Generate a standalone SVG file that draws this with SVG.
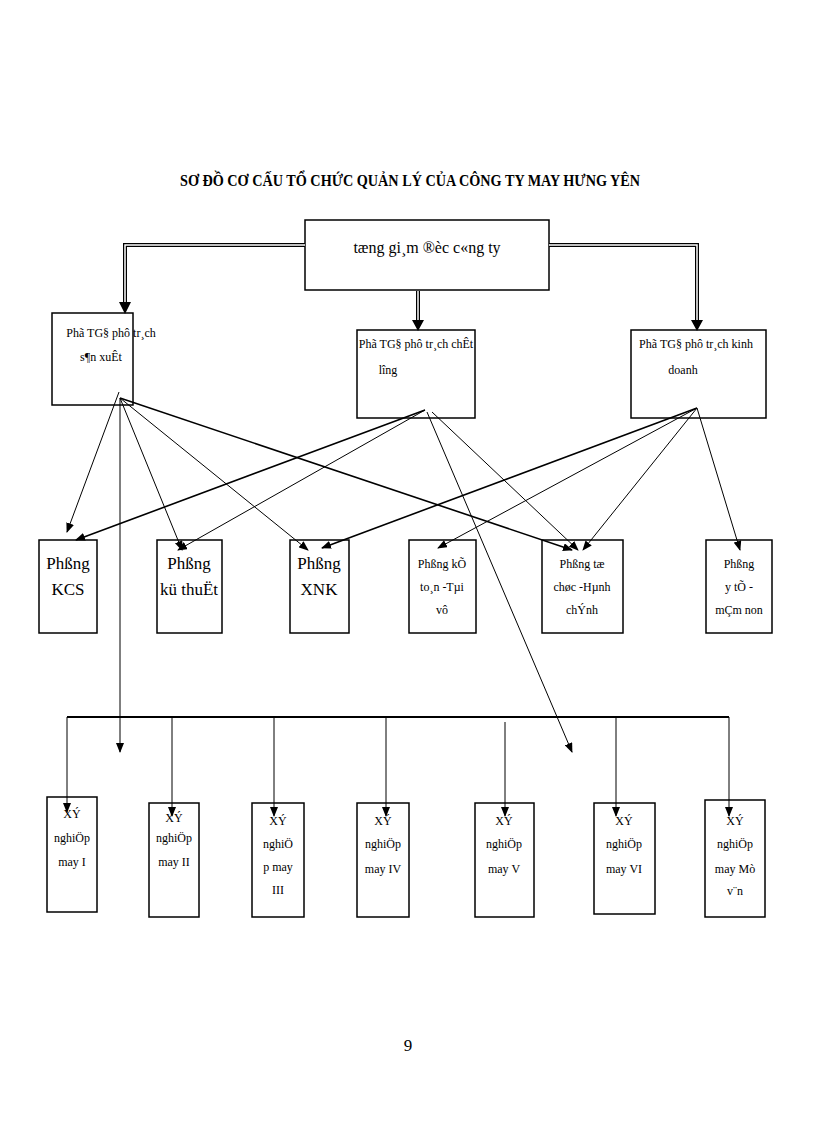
<svg xmlns="http://www.w3.org/2000/svg" width="816" height="1123" viewBox="0 0 816 1123">
<style>
text{font-family:"Liberation Serif","DejaVu Serif",serif;fill:#000;text-anchor:middle}
.b{fill:#fff;stroke:#000;stroke-width:1.5}
.s{font-size:12px}
.m{font-size:17px}
.c line,.c polyline{stroke:#000;stroke-width:1;fill:none}
.d{stroke-width:4!important}
.w{stroke:#fff!important;stroke-width:1.5!important}
</style>
<defs><marker id="a" markerWidth="10" markerHeight="8" refX="9" refY="4" orient="auto" markerUnits="userSpaceOnUse"><path d="M0,0L10,4L0,8z"/></marker></defs>
<rect width="816" height="1123" fill="#fff"/>
<text x="410" y="186" textLength="460" lengthAdjust="spacingAndGlyphs" style="font-size:16px;font-weight:bold">SƠ ĐỒ CƠ CẤU TỔ CHỨC QUẢN LÝ CỦA CÔNG TY MAY HƯNG YÊN</text>
<g id="top"><rect class="b" x="305" y="220" width="244" height="70"/><text x="427" y="253" style="font-size:16px">tæng gi¸m ®èc c«ng ty</text></g>
<g id="pgd1"><rect class="b" x="52" y="313" width="81" height="92"/><text class="s" x="111" y="337">Phã TG§ phô  tr¸ch</text><text class="s" x="101" y="361">s¶n xuÊt</text></g>
<g id="pgd2"><rect class="b" x="357" y="330" width="118" height="88"/><text class="s" x="416" y="348">Phã TG§ phô tr¸ch chÊt</text><text class="s" x="388" y="374">l­îng</text></g>
<g id="pgd3"><rect class="b" x="631" y="330" width="135" height="88"/><text class="s" x="696" y="348">Phã TG§ phô tr¸ch kinh</text><text class="s" x="683" y="374">doanh</text></g>
<g id="kcs"><rect class="b" x="39" y="540" width="58" height="93"/><text class="m" x="68" y="569">Phßng</text><text class="m" x="68" y="595">KCS</text></g>
<g id="kt"><rect class="b" x="157" y="540" width="65" height="93"/><text class="m" x="189" y="569">Phßng</text><text class="m" x="189" y="595">kü thuËt</text></g>
<g id="xnk"><rect class="b" x="290" y="540" width="59" height="93"/><text class="m" x="319" y="569">Phßng</text><text class="m" x="319" y="595">XNK</text></g>
<g id="ketoan"><rect class="b" x="409" y="540" width="67" height="93"/><text class="s" x="442" y="568">Phßng  kÕ</text><text class="s" x="442" y="591">to¸n  -Tµi</text><text class="s" x="442" y="614">vô</text></g>
<g id="tochuc"><rect class="b" x="542" y="540" width="81" height="93"/><text class="s" x="582" y="568">Phßng  tæ</text><text class="s" x="582" y="591">chøc  -Hµnh</text><text class="s" x="582" y="614">chÝnh</text></g>
<g id="yte"><rect class="b" x="706" y="540" width="66" height="93"/><text class="s" x="739" y="568">Phßng</text><text class="s" x="739" y="591">y tÕ  -</text><text class="s" x="739" y="614">mÇm  non</text></g>
<g id="xn1"><rect class="b" x="47" y="797" width="50" height="115"/><text class="s" x="72" y="818">XÝ</text><text class="s" x="72" y="842">nghiÖp</text><text class="s" x="72" y="866">may I</text></g>
<g id="xn2"><rect class="b" x="149" y="803" width="50" height="114"/><text class="s" x="174" y="822">XÝ</text><text class="s" x="174" y="842">nghiÖp</text><text class="s" x="174" y="866">may II</text></g>
<g id="xn3"><rect class="b" x="252" y="803" width="52" height="114"/><text class="s" x="278" y="825">XÝ</text><text class="s" x="278" y="848">nghiÖ</text><text class="s" x="278" y="871">p may</text><text class="s" x="278" y="894">III</text></g>
<g id="xn4"><rect class="b" x="357" y="803" width="52" height="114"/><text class="s" x="383" y="825">XÝ</text><text class="s" x="383" y="848">nghiÖp</text><text class="s" x="383" y="873">may  IV</text></g>
<g id="xn5"><rect class="b" x="475" y="803" width="59" height="114"/><text class="s" x="504" y="825">XÝ</text><text class="s" x="504" y="848">nghiÖp</text><text class="s" x="504" y="873">may  V</text></g>
<g id="xn6"><rect class="b" x="594" y="803" width="61" height="111"/><text class="s" x="624" y="825">XÝ</text><text class="s" x="624" y="848">nghiÖp</text><text class="s" x="624" y="873">may  VI</text></g>
<g id="xn7"><rect class="b" x="705" y="800" width="60" height="117"/><text class="s" x="735" y="825">XÝ</text><text class="s" x="735" y="848">nghiÖp</text><text class="s" x="735" y="873">may Mò</text><text class="s" x="735" y="895">v¨n</text></g>
<g class="c" id="connectors">
<polyline class="d" points="305,245 125,245 125,305"/>
<polyline class="w" points="305,245 125,245 125,305"/>
<polyline class="d" points="549,245 697,245 697,322"/>
<polyline class="w" points="549,245 697,245 697,322"/>
<line class="d" x1="418" y1="291" x2="418" y2="322"/>
<line class="w" x1="418" y1="291" x2="418" y2="322"/>
<path d="M119,302L131,302L125,314z M691,320L703,320L697,331z M412,320L424,320L418,331z"/>
<line x1="119" y1="392" x2="67" y2="532" marker-end="url(#a)"/>
<line x1="120" y1="398" x2="120" y2="752" marker-end="url(#a)"/>
<line x1="120" y1="398" x2="182" y2="550" marker-end="url(#a)"/>
<line x1="120" y1="398" x2="308" y2="550" marker-end="url(#a)"/>
<line x1="120" y1="398" x2="572" y2="550" marker-end="url(#a)" style="stroke-width:1.6"/>
<line x1="425" y1="410" x2="76" y2="540" marker-end="url(#a)" style="stroke-width:1.6"/>
<line x1="425" y1="410" x2="178" y2="550" marker-end="url(#a)"/>
<line x1="427" y1="412" x2="572" y2="752" marker-end="url(#a)"/>
<line x1="432" y1="412" x2="578" y2="550" marker-end="url(#a)"/>
<line x1="697" y1="408" x2="322" y2="548" marker-end="url(#a)" style="stroke-width:1.6"/>
<line x1="697" y1="408" x2="438" y2="548" marker-end="url(#a)"/>
<line x1="697" y1="408" x2="583" y2="550" marker-end="url(#a)"/>
<line x1="697" y1="408" x2="740" y2="550" marker-end="url(#a)"/>
<line x1="67" y1="717" x2="729" y2="717" style="stroke-width:2"/>
<line x1="67" y1="717" x2="67" y2="812" marker-end="url(#a)"/>
<line x1="172" y1="717" x2="172" y2="816" marker-end="url(#a)"/>
<line x1="274" y1="717" x2="274" y2="816" marker-end="url(#a)"/>
<line x1="386" y1="717" x2="386" y2="816" marker-end="url(#a)"/>
<line x1="505" y1="722" x2="505" y2="816" marker-end="url(#a)"/>
<line x1="616" y1="717" x2="616" y2="816" marker-end="url(#a)"/>
<line x1="729" y1="717" x2="729" y2="816" marker-end="url(#a)"/>
</g>
<text x="408" y="1051" style="font-size:17px">9</text>
</svg>
